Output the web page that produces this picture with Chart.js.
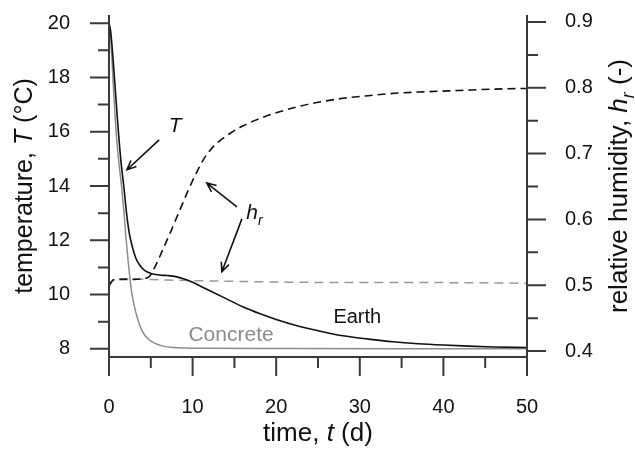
<!DOCTYPE html>
<html>
<head>
<meta charset="utf-8">
<script src="https://cdn.jsdelivr.net/npm/chart.js@4"></script>
<style>
  html, body { margin: 0; padding: 0; background: #fff; }
</style>
</head>
<body>
<canvas id="chart" width="635" height="450"></canvas>
<script>
// temperature, Earth (time in d, T in °C)
const timeEarthT = [0, 0.2, 0.6, 1.0, 1.4, 1.8, 2.1, 2.4, 2.8, 3.2, 3.7, 4.3, 5.0, 6.0, 7.0, 8.0, 9.0, 10, 11, 12, 14, 16, 18, 20, 22.5, 25, 28, 31, 34, 37, 40, 43, 46, 50];
const earthT = [20, 19.7, 18.2, 16.5, 15.0, 13.9, 13.0, 12.3, 11.75, 11.35, 11.07, 10.88, 10.78, 10.72, 10.70, 10.66, 10.57, 10.45, 10.3, 10.15, 9.85, 9.55, 9.3, 9.08, 8.85, 8.67, 8.48, 8.36, 8.26, 8.19, 8.14, 8.10, 8.07, 8.05];

// temperature, Concrete
const timeConcreteT = [0, 0.2, 0.5, 0.85, 1.2, 1.5, 1.8, 2.0, 2.3, 2.7, 3.2, 3.9, 4.5, 5.5, 6.5, 7.7, 9, 12, 20, 35, 50];
const concreteT = [20, 19.5, 17.8, 16.0, 14.8, 14.0, 13.0, 12.2, 11.2, 10.1, 9.35, 8.7, 8.42, 8.2, 8.1, 8.05, 8.03, 8.02, 8.01, 8.0, 8.0];

// relative humidity, Earth
const timeEarthHr = [0, 0.5, 1, 2, 3, 4, 4.8, 5.5, 6.5, 7.5, 8.5, 9.5, 10.5, 11.5, 12.5, 13.5, 14.5, 16, 18, 20, 22.5, 25, 28, 31, 34.5, 38, 42, 46, 50];
const earthHr = [0.500, 0.508, 0.509, 0.509, 0.509, 0.510, 0.513, 0.528, 0.556, 0.585, 0.615, 0.645, 0.672, 0.695, 0.711, 0.722, 0.731, 0.742, 0.753, 0.762, 0.771, 0.778, 0.784, 0.788, 0.792, 0.794, 0.796, 0.798, 0.799];

// relative humidity, Concrete
const timeConcreteHr = [0, 0.4, 1, 2, 4, 7, 10, 15, 20, 30, 40, 50];
const concreteHr = [0.497, 0.507, 0.510, 0.510, 0.509, 0.508, 0.507, 0.506, 0.505, 0.504, 0.504, 0.503];

const xTicks = [0, 10, 20, 30, 40, 50];
const tempTicks = [8, 10, 12, 14, 16, 18, 20];
const hrTicks = [0.4, 0.5, 0.6, 0.7, 0.8, 0.9];

const FONT = "'Liberation Sans', Arial, Helvetica, sans-serif";
const INK = '#111111';
const AXIS = '#3a3a3a';
const GREY = '#8c8c8c';

// annotations, in (t, T) of the left axis
const arrows = [
  { from: [6.0, 15.7], to: [2.15, 14.6] },
  { from: [15.3, 13.23], to: [11.7, 14.11] },
  { from: [15.9, 12.79], to: [13.5, 10.84] }
];

function pts(xs, ys) {
  return xs.map((x, i) => ({ x: x, y: ys[i] }));
}

function minorOf(ticks) {
  const out = [];
  for (let i = 0; i < ticks.length - 1; i++) out.push((ticks[i] + ticks[i + 1]) / 2);
  return out;
}

function richText(ctx, parts, cx, cy, size, angle, color) {
  ctx.save();
  ctx.translate(cx, cy);
  ctx.rotate(angle || 0);
  ctx.fillStyle = color || INK;
  ctx.textBaseline = 'alphabetic';
  ctx.textAlign = 'left';
  const fontOf = p => (p.italic ? 'italic ' : '') + Math.round(p.sub ? size * 0.68 : size) + 'px ' + FONT;
  let total = 0;
  parts.forEach(p => { ctx.font = fontOf(p); total += ctx.measureText(p.text).width; });
  let x = -total / 2;
  parts.forEach(p => {
    ctx.font = fontOf(p);
    ctx.fillText(p.text, x, p.sub ? size * 0.28 : 0);
    x += ctx.measureText(p.text).width;
  });
  ctx.restore();
}

function arrow(ctx, x0, y0, x1, y1) {
  const ang = Math.atan2(y1 - y0, x1 - x0), L = 10, W = 0.42;
  ctx.beginPath();
  ctx.moveTo(x0, y0);
  ctx.lineTo(x1, y1);
  ctx.moveTo(x1 - L * Math.cos(ang - W), y1 - L * Math.sin(ang - W));
  ctx.lineTo(x1, y1);
  ctx.lineTo(x1 - L * Math.cos(ang + W), y1 - L * Math.sin(ang + W));
  ctx.stroke();
}

// fixed axis boxes so the plot area lands where the original one is
function fixBox(w, h) {
  return s => {
    if (w) s.width = w;
    if (h) s.height = h;
    s.paddingTop = 0; s.paddingBottom = 0; s.paddingLeft = 0; s.paddingRight = 0;
  };
}

const frame = {
  id: 'frame',
  afterDraw(chart) {
    const ctx = chart.ctx, a = chart.chartArea;
    const sx = chart.scales.x, sy = chart.scales.y, sr = chart.scales.y1;
    const MAJ = 19, MIN = 11;
    ctx.save();
    ctx.strokeStyle = AXIS;
    ctx.lineWidth = 2;
    ctx.beginPath();
    ctx.moveTo(a.left, a.top); ctx.lineTo(a.left, a.bottom + MAJ);
    ctx.moveTo(a.right, a.top); ctx.lineTo(a.right, a.bottom + MAJ);
    ctx.moveTo(a.left, a.bottom); ctx.lineTo(a.right, a.bottom);
    xTicks.forEach(v => { const p = sx.getPixelForValue(v); ctx.moveTo(p, a.bottom); ctx.lineTo(p, a.bottom + MAJ); });
    minorOf(xTicks).forEach(v => { const p = sx.getPixelForValue(v); ctx.moveTo(p, a.bottom); ctx.lineTo(p, a.bottom + MIN); });
    tempTicks.forEach(v => { const p = sy.getPixelForValue(v); ctx.moveTo(a.left - MAJ, p); ctx.lineTo(a.left, p); });
    minorOf(tempTicks).forEach(v => { const p = sy.getPixelForValue(v); ctx.moveTo(a.left - MIN, p); ctx.lineTo(a.left, p); });
    hrTicks.forEach(v => { const p = sr.getPixelForValue(v); ctx.moveTo(a.right, p); ctx.lineTo(a.right + MAJ, p); });
    minorOf(hrTicks).forEach(v => { const p = sr.getPixelForValue(v); ctx.moveTo(a.right, p); ctx.lineTo(a.right + MIN, p); });
    ctx.stroke();

    // axis titles
    const midY = (a.top + a.bottom) / 2;
    richText(ctx, [{ text: 'time, ' }, { text: 't', italic: true }, { text: ' (d)' }], (a.left + a.right) / 2, 441, 26, 0);
    richText(ctx, [{ text: 'temperature, ' }, { text: 'T', italic: true }, { text: ' (°C)' }], 32, midY, 24.5, -Math.PI / 2);
    richText(ctx, [{ text: 'relative humidity, ' }, { text: 'h', italic: true }, { text: 'r', italic: true, sub: true }, { text: ' (-)' }], 627, midY, 26, -Math.PI / 2);

    // annotations
    ctx.strokeStyle = INK;
    ctx.lineWidth = 1.6;
    arrows.forEach(r => {
      arrow(ctx, sx.getPixelForValue(r.from[0]), sy.getPixelForValue(r.from[1]),
        sx.getPixelForValue(r.to[0]), sy.getPixelForValue(r.to[1]));
    });
    richText(ctx, [{ text: 'T', italic: true }], sx.getPixelForValue(7.9), sy.getPixelForValue(16.0), 21, 0);
    richText(ctx, [{ text: 'h', italic: true }, { text: 'r', italic: true, sub: true }], sx.getPixelForValue(17.4), sy.getPixelForValue(12.79), 21, 0);
    richText(ctx, [{ text: 'Earth' }], sx.getPixelForValue(29.7), sy.getPixelForValue(8.95), 20, 0);
    richText(ctx, [{ text: 'Concrete' }], sx.getPixelForValue(14.6), sy.getPixelForValue(8.28), 21, 0, GREY);
    ctx.restore();
  }
};

const tickFont = { family: FONT, size: 20 };

new Chart(document.getElementById('chart'), {
  type: 'line',
  data: {
    datasets: [
      { label: 'Earth T', data: pts(timeEarthT, earthT), yAxisID: 'y', borderColor: INK, borderWidth: 1.6, pointRadius: 0, cubicInterpolationMode: 'monotone', fill: false },
      { label: 'Concrete T', data: pts(timeConcreteT, concreteT), yAxisID: 'y', borderColor: GREY, borderWidth: 1.5, pointRadius: 0, cubicInterpolationMode: 'monotone', fill: false },
      { label: 'Earth hr', data: pts(timeEarthHr, earthHr), yAxisID: 'y1', borderColor: INK, borderWidth: 1.6, borderDash: [8, 5], pointRadius: 0, cubicInterpolationMode: 'monotone', fill: false },
      { label: 'Concrete hr', data: pts(timeConcreteHr, concreteHr), yAxisID: 'y1', borderColor: '#999999', borderWidth: 1.5, borderDash: [9, 6], pointRadius: 0, cubicInterpolationMode: 'monotone', fill: false }
    ]
  },
  options: {
    responsive: false,
    animation: false,
    devicePixelRatio: 1,
    layout: { padding: { top: 15, left: 0, right: 0, bottom: 0 } },
    plugins: { legend: { display: false }, tooltip: { enabled: false } },
    scales: {
      x: {
        type: 'linear', min: 0, max: 50,
        afterBuildTicks: s => { s.ticks = xTicks.map(v => ({ value: v })); },
        afterFit: fixBox(0, 93),
        grid: { display: false, drawTicks: false },
        border: { display: false },
        ticks: { font: tickFont, color: INK, padding: 38, maxRotation: 0, callback: v => String(v) }
      },
      y: {
        type: 'linear', position: 'left', min: 7.7, max: 20.3,
        afterBuildTicks: s => { s.ticks = tempTicks.map(v => ({ value: v })); },
        afterFit: fixBox(109, 0),
        grid: { display: false, drawTicks: false },
        border: { display: false },
        ticks: { font: tickFont, color: INK, padding: 39, callback: v => String(v) }
      },
      y1: {
        type: 'linear', position: 'right', min: 0.391, max: 0.9106,
        afterBuildTicks: s => { s.ticks = hrTicks.map(v => ({ value: v })); },
        afterFit: fixBox(108, 0),
        grid: { display: false, drawTicks: false },
        border: { display: false },
        ticks: { font: tickFont, color: INK, padding: 38, callback: v => v.toFixed(1) }
      }
    }
  },
  plugins: [frame]
});
</script>
</body>
</html>
